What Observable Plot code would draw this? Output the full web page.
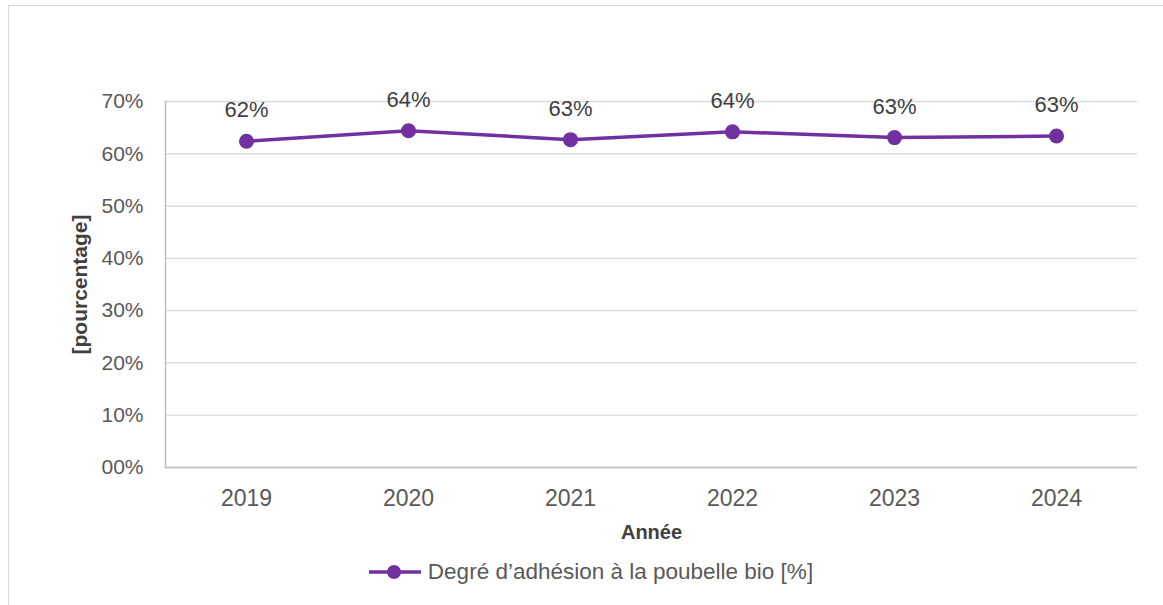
<!DOCTYPE html>
<html>
<head>
<meta charset="utf-8">
<script src="https://cdn.jsdelivr.net/npm/d3@7"></script>
<script src="https://cdn.jsdelivr.net/npm/@observablehq/plot@0.6"></script>
<style>
  html, body { margin: 0; padding: 0; background: #fff; overflow: hidden; }
  body { width: 1163px; height: 605px; position: relative; font-family: "Liberation Sans", Arial, sans-serif; }
  #frame { position: absolute; left: 8px; top: 5px; width: 1200px; height: 700px; border: 1px solid #d9d9d9; box-sizing: border-box; }
  #chart { position: absolute; left: 0; top: 0; }
  #legend { position: absolute; left: 0; top: 559px; width: 1163px; height: 26px; display: flex; justify-content: center; align-items: center; font-size: 22.5px; color: #595959; padding-left: 18px; box-sizing: border-box; }
  #legend svg { margin-right: 6px; }
</style>
</head>
<body>
<div id="frame"></div>
<div id="chart"></div>
<div id="legend"></div>
<script>
const years = ["2019", "2020", "2021", "2022", "2023", "2024"];
const values = [62.4, 64.4, 62.7, 64.2, 63.1, 63.4];
const yTicks = [0, 10, 20, 30, 40, 50, 60, 70];
const seriesName = "Degré d’adhésion à la poubelle bio [%]";
const xTitle = "Année";
const yTitle = "[pourcentage]";
const purple = "#7030A0";

const data = years.map((y, i) => ({year: y, value: values[i]}));
const fmtTick = d => (d === 0 ? "00" : String(d)) + "%";

const chart = Plot.plot({
  width: 1163,
  height: 545,
  marginLeft: 165,
  marginRight: 26,
  marginTop: 101,
  marginBottom: 78,
  style: {fontFamily: "Liberation Sans, Arial, sans-serif", background: "transparent"},
  x: {type: "point", domain: years, padding: 0.5, label: null},
  y: {domain: [0, 70], label: null},
  marks: [
    Plot.gridY(yTicks, {stroke: "#d9d9d9", strokeOpacity: 1, strokeWidth: 1.3}),
    Plot.frame({anchor: "left", stroke: "#bfbfbf", strokeWidth: 1.5}),
    Plot.ruleY([0], {stroke: "#bfbfbf", strokeWidth: 1.5}),
    Plot.axisY({ticks: yTicks, tickSize: 0, tickPadding: 22, tickFormat: fmtTick, fontSize: 21, fill: "#595959", label: null}),
    Plot.axisX({tickSize: 0, tickPadding: 22, fontSize: 23, fill: "#595959", label: null}),
    Plot.text([xTitle], {frameAnchor: "bottom", textAnchor: "middle", lineAnchor: "middle", dy: 65, fontSize: 20, fontWeight: "bold", fill: "#404040"}),
    Plot.text([yTitle], {frameAnchor: "left", textAnchor: "middle", lineAnchor: "middle", dx: -85, rotate: -90, fontSize: 21, fontWeight: "bold", fill: "#404040"}),
    Plot.line(data, {x: "year", y: "value", stroke: purple, strokeWidth: 3.5}),
    Plot.dot(data, {x: "year", y: "value", r: 7.5, fill: purple, stroke: "none"}),
    Plot.text(data, {x: "year", y: "value", text: d => Math.round(d.value) + "%", dy: -31, fontSize: 22, fill: "#404040"})
  ]
});
document.getElementById("chart").append(chart);

const legend = document.getElementById("legend");
const sw = d3.create("svg").attr("width", 54).attr("height", 20);
sw.append("line").attr("x1", 1).attr("x2", 53).attr("y1", 10).attr("y2", 10).attr("stroke", purple).attr("stroke-width", 3.5);
sw.append("circle").attr("cx", 26).attr("cy", 10).attr("r", 7).attr("fill", purple);
legend.append(sw.node());
const lt = document.createElement("span");
lt.textContent = seriesName;
legend.append(lt);
</script>
</body>
</html>
